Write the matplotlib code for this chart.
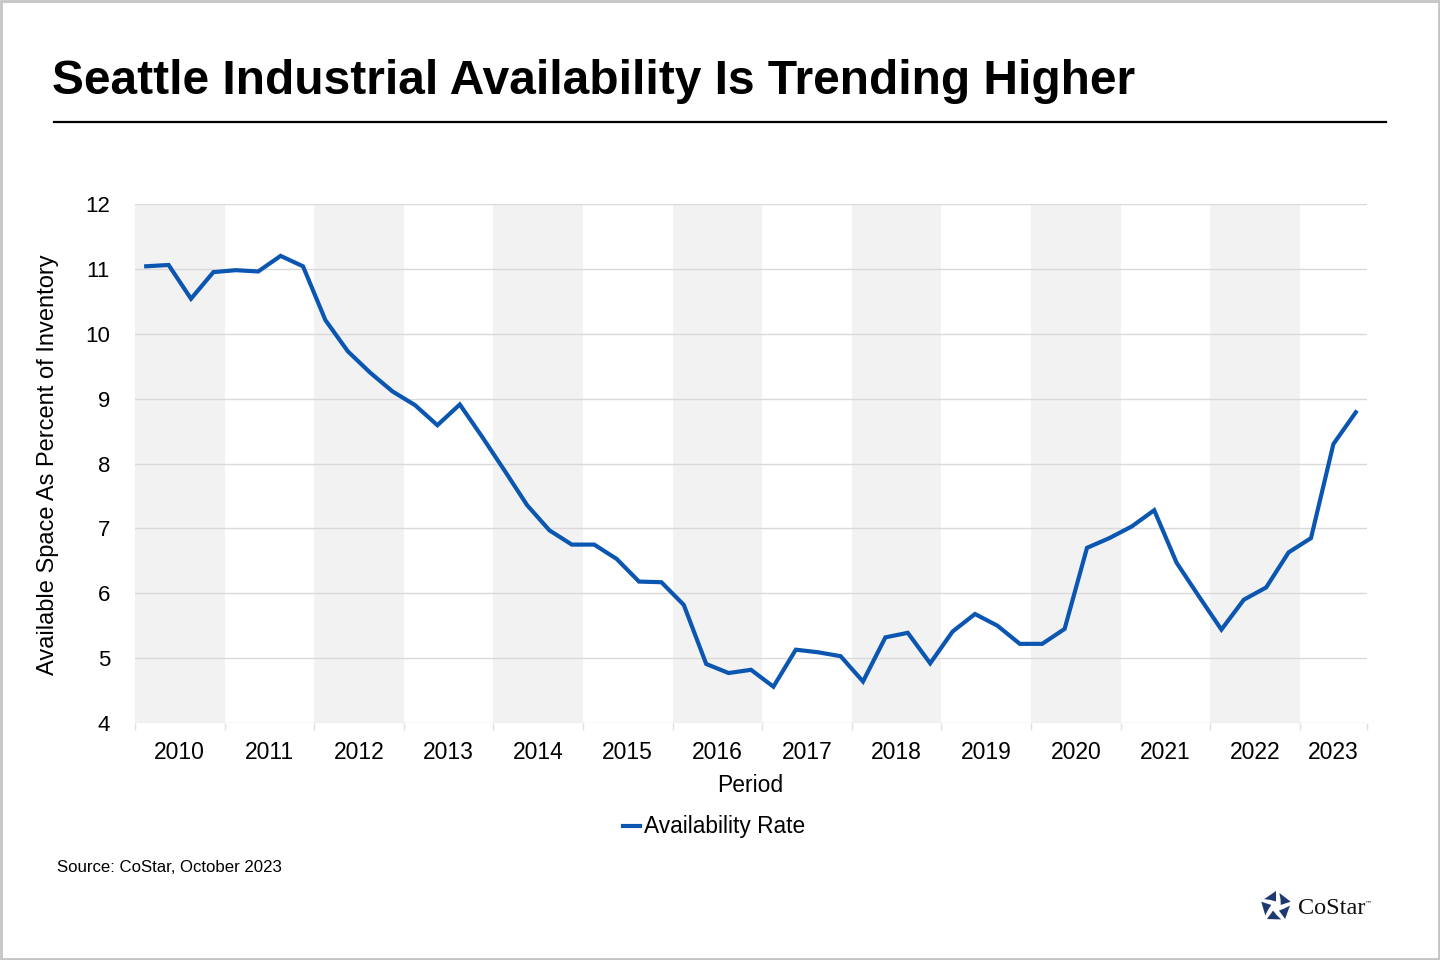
import matplotlib
matplotlib.use("Agg")
import matplotlib.pyplot as plt
from matplotlib.patches import Polygon, Rectangle
from matplotlib.lines import Line2D
import numpy as np

plt.rcParams['font.family'] = ['Liberation Sans', 'DejaVu Sans']

# ---------------- data ----------------
years = list(range(2010, 2024))
quarters = [f"{y} Q{q}" for y in years for q in range(1, 5)][:55]
availability = [
    11.04, 11.06, 10.54, 10.95, 10.98, 10.96, 11.20, 11.04,   # 2010-2011
    10.21, 9.73, 9.40, 9.11, 8.90, 8.59, 8.91, 8.41,          # 2012-2013
    7.89, 7.36, 6.97, 6.75, 6.75, 6.53, 6.18, 6.17,           # 2014-2015
    5.82, 4.91, 4.77, 4.82, 4.56, 5.13, 5.09, 5.03,           # 2016-2017
    4.64, 5.32, 5.39, 4.92, 5.41, 5.68, 5.50, 5.22,           # 2018-2019
    5.22, 5.45, 6.70, 6.85, 7.03, 7.28, 6.47, 5.95,           # 2020-2021
    5.44, 5.90, 6.09, 6.63, 6.85, 8.30, 8.79,                 # 2022-2023 Q3
]
y_ticks = [4, 5, 6, 7, 8, 9, 10, 11, 12]
title = "Seattle Industrial Availability Is Trending Higher"
series_name = "Availability Rate"
y_label = "Available Space As Percent of Inventory"
x_label = "Period"
source = "Source: CoStar, October 2023"

# ---------------- figure ----------------
W, H = 1440, 960
fig = plt.figure(figsize=(W / 100, H / 100), dpi=100)
fig.patch.set_facecolor("white")

def fx(px):
    return px / W

def fy(py):
    return 1 - py / H

# border
fig.add_artist(Rectangle((0.0005, 0.0008), 0.999, 0.9985, transform=fig.transFigure,
                         fill=False, edgecolor="#c4c4c4", linewidth=2))

# title + rule
fig.text(fx(52), fy(82), title, fontsize=34.5, fontweight="bold", ha="left", va="center",
         color="black")
fig.add_artist(Line2D([fx(54), fx(1386)], [fy(122), fy(122)], transform=fig.transFigure,
                      color="black", linewidth=1.6))

# axes
ax = fig.add_axes([fx(135), fy(723), fx(1367) - fx(135), fy(204) - fy(723)])
n = len(availability)
x = np.arange(n)

ax.set_xlim(-0.5, n - 0.5)
ax.set_ylim(4, 12)

# alternating year bands
for i, yr in enumerate(years):
    if i % 2 == 0:
        x0 = 4 * i - 0.5
        x1 = min(4 * i + 3.5, n - 0.5)
        ax.axvspan(x0, x1, color="#f2f2f2", zorder=0, linewidth=0)

ax.set_yticks(y_ticks)
ax.yaxis.grid(True, color="#d9d9d9", linewidth=1, zorder=1)
ax.set_axisbelow(True)

ax.plot(x, availability, color="#0b56b0", linewidth=3.0, zorder=3,
        solid_joinstyle="miter", label=series_name)

# x ticks: labels at year centres, tick marks at year boundaries
centres = [min(4 * i + 1.5, (4 * i + (n - 1)) / 2) for i in range(len(years))]
ax.set_xticks(centres)
ax.set_xticklabels([str(y) for y in years])
ax.set_xticks([4 * i - 0.5 for i in range(len(years))] + [n - 0.5], minor=True)
ax.tick_params(axis="x", which="major", length=0, pad=13, labelsize=16.5, colors="black")
ax.tick_params(axis="x", which="minor", length=5, color="#e0e0e0", width=1)
ax.tick_params(axis="y", length=0, pad=18, labelsize=16, colors="black")

for s in ax.spines.values():
    s.set_visible(False)

fig.text(fx(48), fy(465), y_label, rotation=90, fontsize=17, ha="center", va="center")
fig.text(fx(750), fy(785), x_label, fontsize=16.5, ha="center", va="center")

leg = fig.legend(loc="center", bbox_to_anchor=(fx(714), fy(827)), frameon=False,
                 fontsize=16.4, handlelength=0.75, handletextpad=0.15, borderpad=0)

fig.text(fx(57), fy(867), source, fontsize=12.1, ha="left", va="center")

# CoStar logo (approximation)
cx, cy = 1276, 906.5
r_in, r_out = 5.0, 15.5
navy = "#1d3a70"
for k in range(5):
    a = np.deg2rad(90 + 72 * k)
    b = np.deg2rad(90 + 72 * k + 58)
    c = np.deg2rad(90 + 72 * k + 40)
    pts = [
        (cx + r_in * np.cos(a), cy - r_in * np.sin(a)),
        (cx + r_out * np.cos(a), cy - r_out * np.sin(a)),
        (cx + r_out * 0.9 * np.cos(b), cy - r_out * 0.9 * np.sin(b)),
        (cx + r_in * 1.7 * np.cos(c), cy - r_in * 1.7 * np.sin(c)),
    ]
    fig.add_artist(Polygon([(fx(px), fy(py)) for px, py in pts], closed=True,
                           transform=fig.transFigure, facecolor=navy, edgecolor="none"))
fig.text(fx(1298), fy(908), "CoStar", fontsize=17.5, family="Liberation Serif",
         ha="left", va="center", color="#111111")
fig.text(fx(1365), fy(903), "™", fontsize=5, family="DejaVu Sans",
         ha="left", va="center", color="#111111")

fig.savefig("out.png", dpi=100, facecolor="white")
